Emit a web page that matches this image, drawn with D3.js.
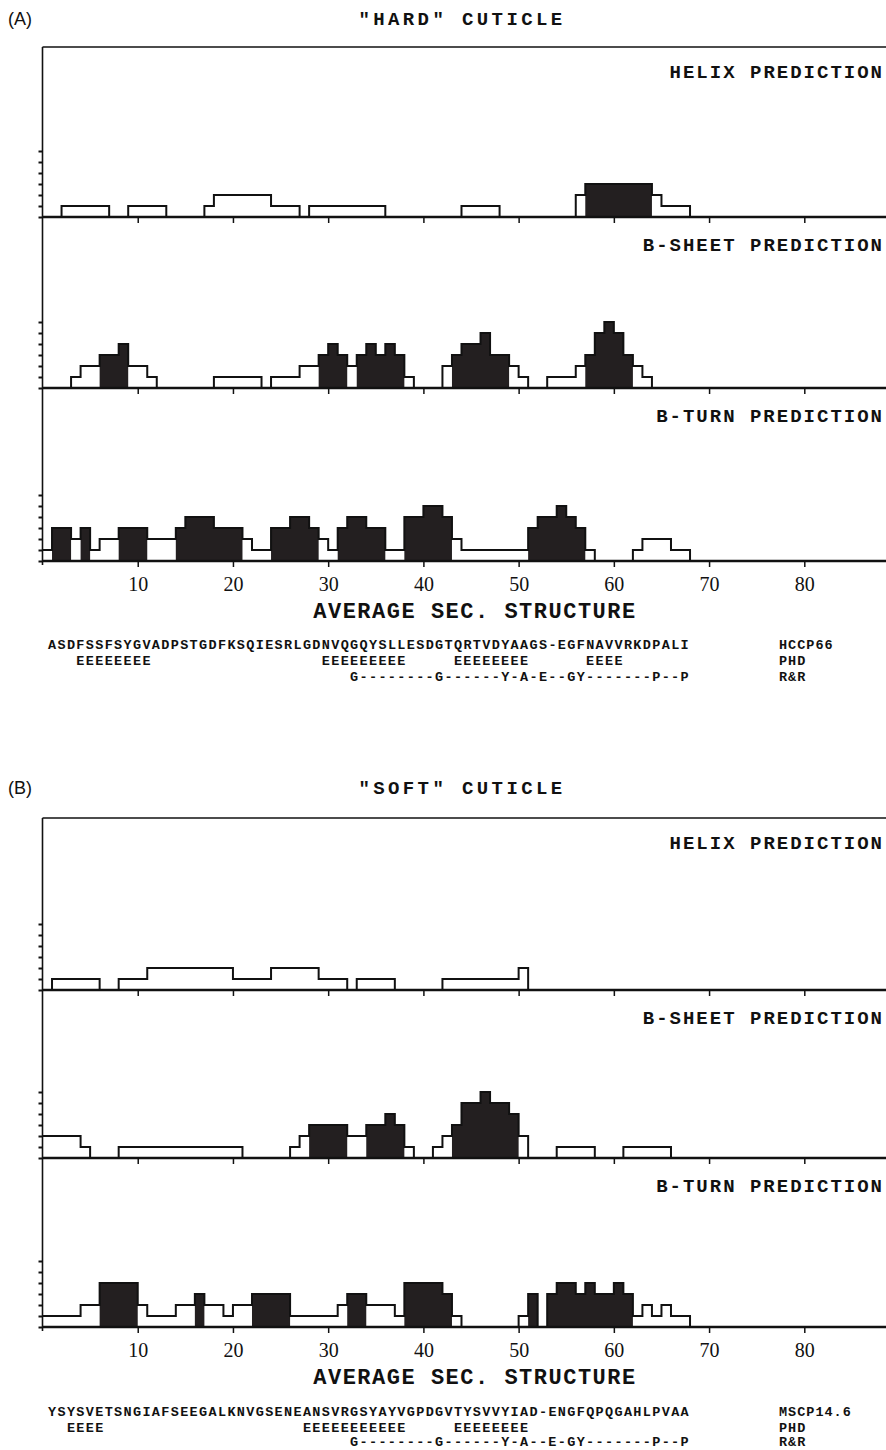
<!DOCTYPE html>
<html>
<head>
<meta charset="utf-8">
<script src="https://cdn.jsdelivr.net/npm/d3@7"></script>
<style>
  body { margin: 0; background: #fff; }
  text { fill: #111; }
</style>
</head>
<body>
<svg id="fig" width="886" height="1450"></svg>
<script>
// residue axis ticks and score ticks
const xTicks = [10, 20, 30, 40, 50, 60, 70, 80];
const yTicks = [0, 1, 2, 3, 4, 5, 6];
const trackNames = ["HELIX PREDICTION", "B-SHEET PREDICTION", "B-TURN PREDICTION"];
const rowNamesHard = ["HCCP66", "PHD", "R&R"];
const rowNamesSoft = ["MSCP14.6", "PHD", "R&R"];

// runs of averaged score: [from residue, to residue, score]
const hardHelix = [[2,7,1],[9,13,1],[17,18,1],[18,24,2],[24,27,1],[28,36,1],[44,48,1],
  [56,57,2],[57,64,3],[64,65,2],[65,68,1]];
const hardSheet = [[3,4,1],[4,6,2],[6,8,3],[8,9,4],[9,11,2],[11,12,1],[18,23,1],[24,27,1],
  [27,29,2],[29,30,3],[30,31,4],[31,32,3],[32,33,2],[33,34,3],[34,35,4],[35,36,3],[36,37,4],
  [37,38,3],[38,39,1],[42,43,2],[43,44,3],[44,46,4],[46,47,5],[47,49,3],[49,50,2],[50,51,1],
  [53,56,1],[56,57,2],[57,58,3],[58,59,5],[59,60,6],[60,61,5],[61,62,3],[62,63,2],[63,64,1]];
const hardTurn = [[0,1,1],[1,3,3],[3,4,2],[4,5,3],[5,6,1],[6,8,2],[8,11,3],[11,14,2],[14,15,3],
  [15,18,4],[18,21,3],[21,22,2],[22,24,1],[24,26,3],[26,28,4],[28,29,3],[29,30,2],[30,31,1],
  [31,32,3],[32,34,4],[34,36,3],[36,38,1],[38,40,4],[40,42,5],[42,43,4],[43,44,2],[44,51,1],
  [51,52,3],[52,54,4],[54,55,5],[55,56,4],[56,57,3],[57,58,1],[62,63,1],[63,66,2],[66,68,1]];

const softHelix = [[1,6,1],[8,11,1],[11,20,2],[20,24,1],[24,29,2],[29,32,1],[33,37,1],
  [42,50,1],[50,51,2]];
const softSheet = [[0,4,2],[4,5,1],[8,21,1],[26,27,1],[27,28,2],[28,32,3],[32,34,2],[34,36,3],
  [36,37,4],[37,38,3],[38,39,1],[41,42,1],[42,43,2],[43,44,3],[44,46,5],[46,47,6],[47,49,5],
  [49,50,4],[50,51,2],[54,58,1],[61,66,1]];
const softTurn = [[0,4,1],[4,6,2],[6,10,4],[10,11,2],[11,14,1],[14,16,2],[16,17,3],[17,19,2],
  [19,20,1],[20,22,2],[22,26,3],[26,31,1],[31,32,2],[32,34,3],[34,37,2],[37,38,1],[38,42,4],
  [42,43,3],[43,44,1],[50,51,1],[51,52,3],[53,54,3],[54,56,4],[56,57,3],[57,58,4],[58,60,3],
  [60,61,4],[61,62,3],[62,63,1],[63,64,2],[64,65,1],[65,66,2],[66,68,1]];

// sequence rows (one character per residue)
const hardSeq = "ASDFSSFSYGVADPSTGDFKSQIESRLGDNVQGQYSLLESDGTQRTVDYAAGS-EGFNAVVRKDPALI";
const hardPhd = "   EEEEEEEE                  EEEEEEEEE     EEEEEEEE      EEEE";
const hardRR  = "                                G--------G------Y-A-E--GY-------P--P";
const softSeq = "YSYSVETSNGIAFSEEGALKNVGSENEANSVRGSYAYVGPDGVTYSVVYIAD-ENGFQPQGAHLPVAA";
const softPhd = "  EEEE                     EEEEEEEEEEE     EEEEEEEE";
const softRR  = "                                G--------G------Y-A--E-GY-------P--P";

const panels = [
  { tag: "(A)", title: '"HARD" CUTICLE', tracks: [hardHelix, hardSheet, hardTurn],
    rows: [hardSeq, hardPhd, hardRR], rowNames: rowNamesHard,
    titleY: 18, top: 47, base: [217, 388, 561], seqY: [644, 660, 676] },
  { tag: "(B)", title: '"SOFT" CUTICLE', tracks: [softHelix, softSheet, softTurn],
    rows: [softSeq, softPhd, softRR], rowNames: rowNamesSoft,
    titleY: 787, top: 818, base: [990, 1158, 1327], seqY: [1411, 1427, 1441] }
];

const svg = d3.select("#fig");
const W = 886;
const x = d3.scaleLinear().domain([0, 80]).range([42.5, 804.3]);
const xMax = x.invert(W);
const mono = "'Liberation Mono', 'DejaVu Sans Mono', monospace";
const THRESH = 3;

function expand(runs) {
  const n = Math.ceil(xMax) + 1;
  const vals = new Array(n).fill(0);
  runs.forEach(([a, b, v]) => { for (let i = a; i < b; i++) vals[i] = v; });
  return vals.map((v, i) => ({ i, v }));
}

panels.forEach(p => {
  const g = svg.append("g");

  g.append("text")
    .attr("x", 8).attr("y", p.titleY + 6.5)
    .attr("font-family", "'Liberation Sans', Arial, sans-serif")
    .attr("font-size", 18)
    .text(p.tag);

  g.append("text")
    .attr("x", 462).attr("y", p.titleY + 7)
    .attr("text-anchor", "middle")
    .attr("font-family", mono).attr("font-weight", "bold")
    .attr("font-size", 19).attr("letter-spacing", 3.4)
    .text(p.title);

  // frame: top line and left axis
  g.append("line")
    .attr("x1", x(0)).attr("x2", W).attr("y1", p.top).attr("y2", p.top)
    .attr("stroke", "#111").attr("stroke-width", 1.6);
  g.append("line")
    .attr("x1", x(0)).attr("x2", x(0)).attr("y1", p.top).attr("y2", p.base[2] + 4)
    .attr("stroke", "#111").attr("stroke-width", 1.6);

  p.tracks.forEach((runs, k) => {
    const trackTop = k === 0 ? p.top : p.base[k - 1];
    const yb = p.base[k];
    const y = d3.scaleLinear().domain([0, 1]).range([yb, yb - 11]);
    const data = expand(runs);

    g.append("text")
      .attr("x", 884).attr("y", trackTop + 34 - (k === 0 ? 3 : 0))
      .attr("text-anchor", "end")
      .attr("font-family", mono).attr("font-weight", "bold")
      .attr("font-size", 19).attr("letter-spacing", 2)
      .text(trackNames[k]);

    const area = d3.area()
      .curve(d3.curveStepAfter)
      .x(d => x(d.i))
      .y0(yb)
      .y1(d => y(d.v >= THRESH ? d.v : 0));
    g.append("path").datum(data)
      .attr("d", area)
      .attr("fill", "#231f20");

    const line = d3.line()
      .curve(d3.curveStepAfter)
      .x(d => x(d.i))
      .y(d => y(d.v));
    g.append("path").datum(data)
      .attr("d", line)
      .attr("fill", "none")
      .attr("stroke", "#111").attr("stroke-width", 2);

    // baseline with downward residue ticks
    const ax = g.append("g").attr("transform", `translate(0,${yb})`)
      .call(d3.axisBottom(x).tickValues(xTicks).tickSize(6).tickFormat(k === 2 ? d3.format("d") : ""));
    ax.select(".domain").attr("d", `M${x(0)},0H${W}`)
      .attr("stroke", "#111").attr("stroke-width", 2.6);
    ax.selectAll(".tick line").attr("stroke", "#111").attr("stroke-width", 1.5);
    ax.selectAll(".tick text")
      .attr("font-family", "'Liberation Serif', 'Times New Roman', serif")
      .attr("font-size", 20).attr("fill", "#111").attr("dy", "1.05em");

    // score ticks on the left axis
    const ay = g.append("g").attr("transform", `translate(${x(0)},0)`)
      .call(d3.axisLeft(y).tickValues(yTicks).tickSize(4).tickFormat(""));
    ay.select(".domain").remove();
    ay.selectAll(".tick line").attr("stroke", "#111").attr("stroke-width", 2);
  });

  g.append("text")
    .attr("x", 475).attr("y", p.base[2] + 57)
    .attr("text-anchor", "middle")
    .attr("font-family", mono).attr("font-weight", "bold")
    .attr("font-size", 22).attr("letter-spacing", 1.5)
    .text("AVERAGE SEC. STRUCTURE");

  // sequence rows, placed residue by residue on the x scale
  const pitch = 9.44, fs = 13.5;
  p.rows.forEach((row, r) => {
    const runsTxt = [];
    row.replace(/\S+/g, (m, off) => { runsTxt.push({ m, off }); return m; });
    runsTxt.forEach(t => {
      g.append("text")
        .attr("x", 48 + t.off * pitch).attr("y", p.seqY[r] + 4.5)
        .attr("font-family", mono).attr("font-weight", "bold")
        .attr("font-size", fs).attr("letter-spacing", pitch - fs * 0.6)
        .text(t.m);
    });
    g.append("text")
      .attr("x", 779).attr("y", p.seqY[r] + 4.5)
      .attr("font-family", mono).attr("font-weight", "bold")
      .attr("font-size", fs).attr("letter-spacing", 1)
      .text(p.rowNames[r]);
  });
});
</script>
</body>
</html>
